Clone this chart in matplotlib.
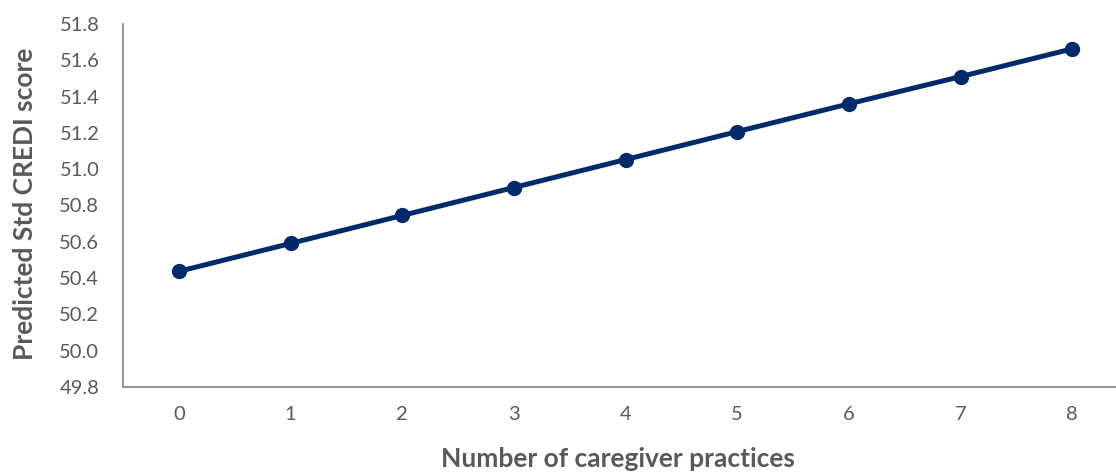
import matplotlib.pyplot as plt

# --- Data ---
practices = [0, 1, 2, 3, 4, 5, 6, 7, 8]
predicted = [50.437, 50.591, 50.745, 50.899, 51.053, 51.207, 51.360, 51.510, 51.663]
y_ticks = [49.8, 50.0, 50.2, 50.4, 50.6, 50.8, 51.0, 51.2, 51.4, 51.6, 51.8]

LINE_COLOR = '#012a6b'
TEXT_COLOR = '#595959'
W, H = 1116, 472

plt.rcParams['font.family'] = ['Lato', 'DejaVu Sans']

fig = plt.figure(figsize=(W / 100, H / 100), dpi=100)
ax = fig.add_axes([123 / W, (H - 387) / H, (1128 - 123) / W, (387 - 24) / H])

ax.plot(practices, predicted, color=LINE_COLOR, linewidth=3.6,
        marker='o', markersize=10, solid_capstyle='round')

ax.set_xlim(-0.5, 8.5)
ax.set_ylim(49.8, 51.8)
ax.set_xticks(practices)
ax.set_yticks(y_ticks)
ax.set_yticklabels([f'{v:.1f}' for v in y_ticks])

for side in ('top', 'right'):
    ax.spines[side].set_visible(False)
for side in ('left', 'bottom'):
    ax.spines[side].set_color('#8c8c8c')
    ax.spines[side].set_linewidth(1.3)

ax.tick_params(axis='both', length=0, labelsize=14.5, colors=TEXT_COLOR)
ax.tick_params(axis='y', pad=17)
ax.tick_params(axis='x', pad=14)

fig.text(25 / W, 1 - 204 / H, 'Predicted Std CREDI score', rotation=90,
         ha='center', va='center', fontsize=19, fontweight='bold', color=TEXT_COLOR)
fig.text(618 / W, 1 - 459 / H, 'Number of caregiver practices',
         ha='center', va='center', fontsize=19, fontweight='bold', color=TEXT_COLOR)

fig.savefig('out.png', dpi=100)
